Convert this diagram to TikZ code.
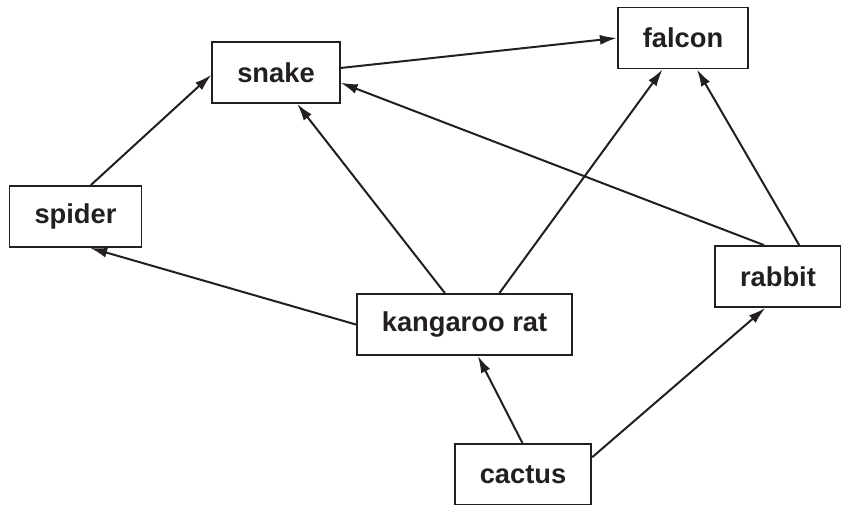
\documentclass[tikz,border=0pt]{standalone}
\usepackage{fontspec}
\setmainfont{Liberation Sans}
\usetikzlibrary{arrows.meta}
\definecolor{ink}{RGB}{35,31,32}
\tikzstyle{animal}=[rectangle,draw=ink,text=ink,line width=1.8pt,minimum height=61pt,inner xsep=25pt,inner ysep=0pt,font=\fontsize{27.3}{30}\selectfont\bfseries]
\tikzstyle{eats}=[-{Latex[length=17pt,width=10pt]},draw=ink,line width=2pt]

\begin{document}
\begin{tikzpicture}[x=1pt,y=-1pt]
                    \useasboundingbox (0,0) rectangle (841,504);
                    \node (falcon) at (683,38) [animal] {falcon};
                    \node (snake) at (276,72.5) [animal] {snake};
                    \node (spider) at (75.5,216.5) [animal] {spider};
                    \node (krat) at (464.5,324.5) [animal] {kangaroo rat};
                    \node (rabbit) at (778,276.5) [animal] {rabbit};
                    \node (cactus) at (523,474.5) [animal] {cactus};

                    \draw [eats] (snake.4.8) -- (falcon.180);
                    \draw [eats] (spider.64.6) -- (snake.182.2);
                    \draw [eats] (krat.122.6) -- (snake.304.5);
                    \draw [eats] (krat.180) -- (spider.295.4);
                    \draw [eats] (krat.42.3) -- (falcon.237.2);
                    \draw [eats] (rabbit.114.7) -- (snake.351.8);
                    \draw [eats] (rabbit.56.7) -- (falcon.294.3);
                    \draw [eats] (cactus.91.9) -- (krat.293.9);
                    \draw [eats] (cactus.14.2) -- (rabbit.248.5);
                \end{tikzpicture}
\end{document}
